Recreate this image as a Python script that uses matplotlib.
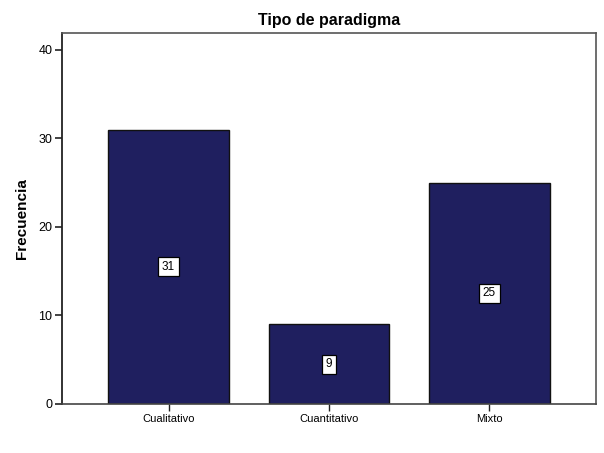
import matplotlib
matplotlib.use("Agg")
import matplotlib.pyplot as plt

categories = ["Cualitativo", "Cuantitativo", "Mixto"]
counts = [31, 9, 25]
y_ticks = [0, 10, 20, 30, 40]

plt.rcParams["font.family"] = ["Liberation Sans", "DejaVu Sans"]

fig = plt.figure(figsize=(6.04, 4.53), dpi=100)
ax = fig.add_axes([62 / 604, 1 - 404 / 453, (596 - 62) / 604, (404 - 33) / 453])

x = list(range(len(categories)))
ax.bar(x, counts, width=0.754, color="#1f1f5f", edgecolor="#111111", linewidth=1.0, zorder=2)

# value labels in white boxes, centred in each bar
for xi, v in zip(x, counts):
    ax.text(xi, v / 2, str(v), ha="center", va="center", fontsize=8.5, color="black", zorder=3,
            bbox=dict(boxstyle="square,pad=0.3", facecolor="white", edgecolor="black", linewidth=0.9))

ax.set_xlim(-0.664, 2.664)
ax.set_ylim(0, 41.9)
ax.set_xticks(x)
ax.set_xticklabels(categories, fontsize=8)
ax.set_yticks(y_ticks)
ax.set_yticklabels([str(t) for t in y_ticks], fontsize=9)
ax.tick_params(axis="both", direction="out", length=5, width=1.2, color="#222222", pad=2)
ax.tick_params(axis="x", length=5, width=1.0)

ax.spines["left"].set_color("#222222")
ax.spines["left"].set_linewidth(1.3)
ax.spines["bottom"].set_color("#444444")
ax.spines["bottom"].set_linewidth(1.2)
for side in ["top", "right"]:
    ax.spines[side].set_color("#555555")
    ax.spines[side].set_linewidth(1.2)

ax.set_ylabel("Frecuencia", fontsize=11, fontweight="bold", labelpad=7)
fig.text(329 / 604, 1 - 20 / 453, "Tipo de paradigma", ha="center", va="center",
         fontsize=11.5, fontweight="bold")

fig.savefig("out.png", dpi=100)
